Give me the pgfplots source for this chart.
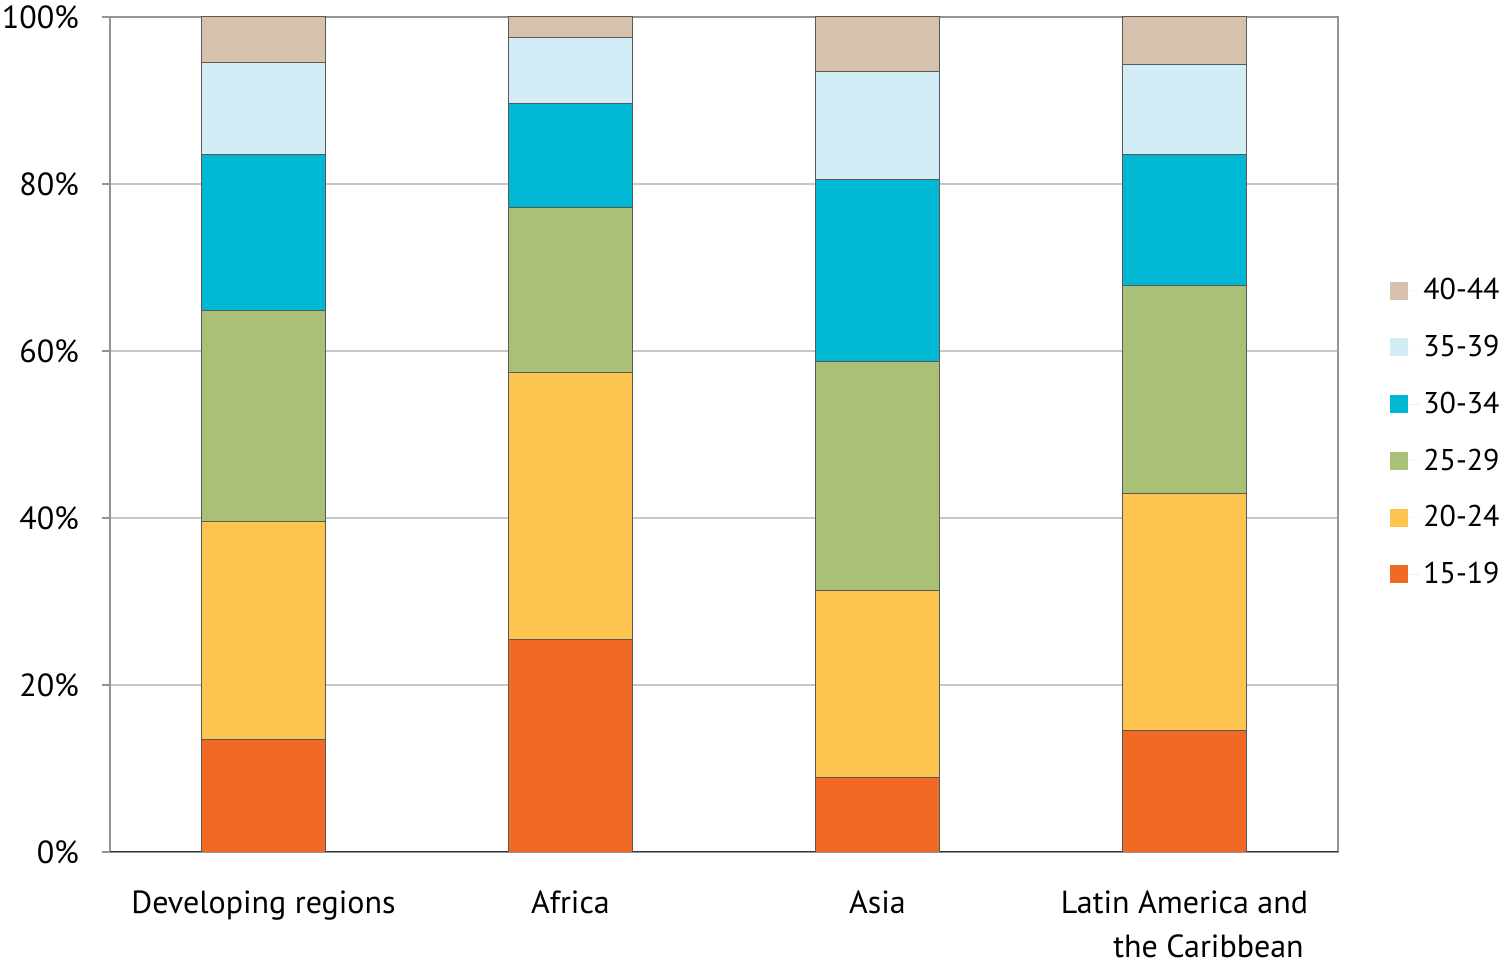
\documentclass[border=0pt]{standalone}
\usepackage{fontspec}
\setmainfont{PT Sans}
\usepackage{pgfplots}
\usepackage{pgfplotstable}
\pgfplotsset{compat=1.18}
\definecolor{cA}{HTML}{F06A25}
\definecolor{cB}{HTML}{FDC44F}
\definecolor{cC}{HTML}{ABC077}
\definecolor{cD}{HTML}{00B8D4}
\definecolor{cE}{HTML}{D2EDF5}
\definecolor{cF}{HTML}{D6C1AC}
\definecolor{frameg}{HTML}{8E9499}
\pgfplotstableread{
x a b c d e f
0 13.5 26.1 25.3 18.6 11.1 5.4
1 25.5 31.9 19.8 12.4 8.0 2.4
2 8.9 22.4 27.5 21.7 13.0 6.5
3 14.6 28.3 24.9 15.7 10.8 5.7
}\datatab
\begin{document}
\begin{tikzpicture}
\begin{axis}[
  name=ax,
  scale only axis,
  width=614bp, height=417.5bp,
  ybar stacked,
  bar width=0.404,
  xmin=-0.5, xmax=3.5,
  ymin=0, ymax=100,
  xtick={0,1,2,3},
  xticklabels={Developing regions,Africa,Asia,{Latin America and\\ \hspace*{24bp}the Caribbean}},
  xticklabel style={align=center, yshift=-12bp, font=\fontsize{16bp}{22bp}\selectfont},
  major x tick style={draw=none},
  ytick={0,20,40,60,80,100},
  ytick pos=left,
  yticklabel={\pgfmathprintnumber{\tick}\%},
  /pgf/number format/assume math mode=true,
  yticklabel style={xshift=-8bp, font=\fontsize{16bp}{17bp}\selectfont},
  tick align=outside,
  major tick length=4bp,
  major y tick style={frameg, line width=0.8bp},
  ymajorgrids,
  grid style={draw=black!22, line width=0.6bp},
  axis line style={frameg, line width=1.1bp},
  every axis plot/.append style={draw=black!65, line width=0.5bp},
  legend style={draw=none, fill=none, at={(1,0.5)}, anchor=west, xshift=23bp, yshift=1bp,
    font=\fontsize{15bp}{18bp}\selectfont, row sep=13.2bp,
    nodes={inner sep=1.5bp}},
  legend cell align=left,
  reverse legend,
  legend image code/.code={\path[draw=none] (0bp,0bp) -- (15bp,0bp);\fill[#1, draw=none] (0bp,-4.5bp) rectangle (9bp,4.5bp);},
]
\addplot[fill=cA] table[x=x,y=a]{\datatab};
\addplot[fill=cB] table[x=x,y=b]{\datatab};
\addplot[fill=cC] table[x=x,y=c]{\datatab};
\addplot[fill=cD] table[x=x,y=d]{\datatab};
\addplot[fill=cE] table[x=x,y=e]{\datatab};
\addplot[fill=cF] table[x=x,y=f]{\datatab};
\legend{15-19,20-24,25-29,30-34,35-39,40-44}
\draw[black!80, line width=1.1bp] (rel axis cs:0,0) -- (rel axis cs:1,0);
\end{axis}
\pgfresetboundingbox
\path (ax.south west) ++(-55bp,-57bp) coordinate (bl);
\path (ax.north east) ++(81bp,8.5bp) coordinate (tr);
\path (bl) rectangle (tr);
\end{tikzpicture}
\end{document}
